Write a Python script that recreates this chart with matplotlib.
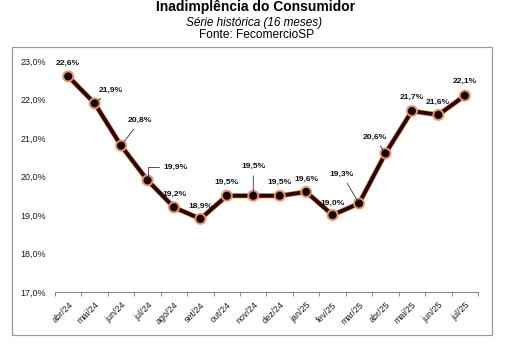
import matplotlib
matplotlib.use("Agg")
import matplotlib.pyplot as plt
import matplotlib.patheffects as pe
from matplotlib.patches import Rectangle

plt.rcParams["font.family"] = ["Liberation Sans", "DejaVu Sans"]

months = ["abr/24", "mai/24", "jun/24", "jul/24", "ago/24", "set/24", "out/24", "nov/24",
          "dez/24", "jan/25", "fev/25", "mar/25", "abr/25", "mai/25", "jun/25", "jul/25"]
rates = [22.6, 21.9, 20.8, 19.9, 19.2, 18.9, 19.5, 19.5,
         19.5, 19.6, 19.0, 19.3, 20.6, 21.7, 21.6, 22.1]
yticks = [17.0, 18.0, 19.0, 20.0, 21.0, 22.0, 23.0]

# label offsets in pixels (dx, dy) from the point; leader line for some
offsets = [(0, 13), (16, 13), (19, 25), (28, 13), (1, 13), (0, 13), (0, 13), (0, 29),
           (0, 13), (0, 13), (0, 12), (-17, 29), (-11, 16), (0, 14), (-1, 13), (0, 14)]
leaders = [False, True, True, "elbow", False, False, False, True,
           False, False, False, True, True, False, False, False]

W, H = 506, 348
fig = plt.figure(figsize=(W / 100, H / 100), dpi=100)
ax = fig.add_axes([55 / W, 1 - 292 / H, (478 - 55) / W, 231 / H])

x = list(range(len(months)))
ax.plot(x, rates, color="#2a0600", lw=2.8, marker="o", ms=4.8, mfc="#150300", mec="#150300",
        solid_joinstyle="round",
        path_effects=[pe.Stroke(linewidth=3.8, foreground="#e8936a"), pe.Normal()])

px = 72 / 100  # pixels -> points
for i, (v, (dx, dy), ld) in enumerate(zip(rates, offsets, leaders)):
    label = f"{v:.1f}%".replace(".", ",")
    kw = dict(xytext=(dx * px, dy * px), textcoords="offset points",
              ha="center", va="center", fontsize=6.1, fontweight="bold", color="#111111")
    if ld == "elbow":
        kw["arrowprops"] = dict(arrowstyle="-", color="#333333", lw=0.6,
                                connectionstyle="angle,angleA=180,angleB=90,rad=0",
                                shrinkA=1, shrinkB=2)
    elif ld:
        kw["arrowprops"] = dict(arrowstyle="-", color="#333333", lw=0.6,
                                shrinkA=2, shrinkB=2)
    ax.annotate(label, (i, v), **kw)

ax.set_xlim(-0.5, len(months) - 0.5)
ax.set_ylim(17, 23)
ax.set_yticks(yticks)
ax.set_yticklabels([f"{t:.1f}%".replace(".", ",") for t in yticks], fontsize=6.5, color="#1a1a1a")
ax.tick_params(axis="y", length=0, pad=6.5)
ax.set_xticks(x)
ax.set_xticklabels(months, rotation=45, ha="right", rotation_mode="anchor",
                   fontsize=6.4, color="#1a1a1a")
ax.set_xticks([i - 0.5 for i in range(len(months) + 1)], minor=True)
ax.tick_params(axis="x", which="major", length=0, pad=6)
ax.tick_params(axis="x", which="minor", length=3, color="#888888", width=0.7)
for s in ["top", "right", "left"]:
    ax.spines[s].set_visible(False)
ax.spines["bottom"].set_color("#888888")
ax.spines["bottom"].set_linewidth(0.8)

fig.add_artist(Rectangle((12 / W, 1 - 335 / H), 480 / W, 288 / H, transform=fig.transFigure,
                         fill=False, edgecolor="#999999", lw=0.9))

fig.text(256 / W, 1 - 7 / H, "Inadimplência do Consumidor", ha="center", va="center",
         fontsize=10, fontweight="bold")
fig.text(254 / W, 1 - 23 / H, "Série histórica (16 meses)", ha="center", va="center",
         fontsize=8.5, style="italic")
fig.text(257 / W, 1 - 35 / H, "Fonte: FecomercioSP", ha="center", va="center",
         fontsize=8.6)

fig.savefig("out.png", dpi=100)
